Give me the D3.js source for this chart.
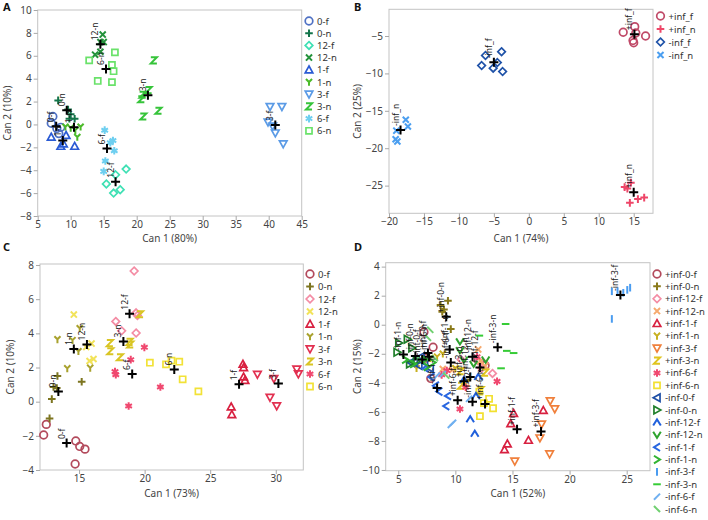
<!DOCTYPE html>
<html><head><meta charset="utf-8">
<script src="https://cdn.jsdelivr.net/npm/d3@7"></script>
<style>body{margin:0;background:#fff} svg{display:block} text{font-family:"Noto Sans",sans-serif}</style>
</head><body><svg id="c" width="708" height="520"></svg>
<script>
// ---------- Panel A ----------
const namesA = ["0-f","0-n","12-f","12-n","1-f","1-n","3-f","3-n","6-f","6-n"];
const pointsA = [
 [[7.3,0.7],[7.05,0.1],[7.9,-0.35],[8.5,-0.25],[8.2,-0.8]],
 [[8.1,2.1],[9.6,1.3],[10.0,0.9],[9.8,0.5],[10.6,0.5]],
 [[18.4,-3.9],[16.8,-4.4],[15.4,-5.2],[16.5,-6.0],[17.5,-5.7]],
 [[14.85,7.85],[14.5,7.2],[15.0,7.2],[14.5,6.35],[13.7,6.1]],
 [[7.05,-1.1],[8.5,-1.9],[9.3,-0.95],[8.9,-1.7],[10.6,-1.9]],
 [[9.2,-0.2],[11.5,-0.2],[11.0,-1.1],[10.0,-0.3],[10.7,-0.5]],
 [[40.2,1.55],[42.0,1.55],[39.9,0.2],[40.6,-0.15],[41.0,-0.75],[42.2,-1.7]],
 [[22.6,5.6],[21.8,3.0],[20.9,2.6],[20.7,2.2],[21.0,0.7],[23.3,1.2]],
 [[15.15,-0.5],[16.4,-1.4],[16.0,-1.6],[16.6,-2.3],[15.25,-3.2],[15.0,-4.1]],
 [[12.8,5.6],[16.7,6.3],[16.25,5.2],[16.5,4.65],[14.1,3.8],[16.25,3.7]]
];
const centA = [[7.8,-0.15],[9.4,1.25],[16.8,-5.0],[14.5,7.0],[8.8,-1.4],[10.5,-0.25],[41.0,-0.05],[21.7,2.55],[15.5,-2.1],[15.35,4.85]];
const xTicksA = [5,10,15,20,25,30,35,40,45];
const yTicksA = [-8,-6,-4,-2,0,2,4,6,8,10];

// ---------- Panel B ----------
const namesB = ["+inf_f","+inf_n","-inf_f","-inf_n"];
const pointsB = [
 [[13.5,-4.5],[15.15,-3.75],[16.7,-5.0],[14.9,-5.6],[15.0,-5.9],[15.3,-4.6]],
 [[13.7,-25.2],[14.6,-24.6],[14.45,-27.3],[15.6,-26.8],[16.5,-26.6],[14.1,-25.4]],
 [[-6.75,-8.95],[-6.2,-7.6],[-5.1,-9.3],[-4.5,-8.55],[-3.9,-7.1],[-3.75,-9.75]],
 [[-18.95,-17.65],[-17.6,-16.2],[-17.3,-17.1],[-19.05,-18.8],[-18.8,-19.1]]
];
const centB = [[15.1,-4.75],[15.0,-25.9],[-5.0,-8.5],[-18.35,-17.55]];
const xTicksB = [-20,-15,-10,-5,0,5,10,15];
const yTicksB = [-25,-20,-15,-10,-5];

// ---------- Panel C ----------
const namesC = ["0-f","0-n","12-f","12-n","1-f","1-n","3-f","3-n","6-f","6-n"];
const pointsC = [
 [[12.5,-1.33],[12.3,-1.95],[14.75,-2.3],[15.05,-2.62],[15.45,-2.78],[14.7,-3.65]],
 [[13.35,1.5],[13.05,0.86],[12.92,0.15],[12.75,-0.98],[15.2,1.17],[13.3,0.8]],
 [[19.2,7.65],[17.8,4.7],[19.35,5.2],[19.45,5.05],[18.25,4.15],[19.35,4.02]],
 [[14.6,5.1],[15.95,3.4],[16.1,2.5],[15.8,2.38],[15.55,3.2]],
 [[27.5,2.2],[27.55,2.0],[27.55,1.45],[27.65,1.25],[26.6,-0.3],[26.65,-0.75]],
 [[13.35,3.65],[15.05,4.3],[14.5,3.6],[14.95,2.95],[14.1,1.95],[15.85,1.98]],
 [[28.6,1.6],[29.86,1.35],[29.56,0.25],[30.07,-0.25],[31.6,1.9],[31.72,1.62]],
 [[17.35,3.43],[17.38,2.95],[18.12,2.6],[18.85,3.5],[19.65,5.12],[18.9,3.35]],
 [[19.98,3.18],[18.94,2.46],[17.74,1.76],[17.8,1.58],[21.2,0.86],[18.78,-0.25]],
 [[20.4,2.28],[21.63,2.19],[22.64,2.34],[22.9,1.31],[24.1,0.6],[22.05,2.4]]
];
const centC = [[14.05,-2.42],[13.42,0.6],[18.85,5.15],[15.6,3.35],[27.2,1.02],[14.6,3.08],[30.2,1.06],[18.38,3.53],[19.05,1.62],[22.26,1.88]];
const xTicksC = [15,20,25,30];
const yTicksC = [-4,-2,0,2,4,6,8];

// ---------- Panel D ----------
const namesD = ["+inf-0-f","+inf-0-n","+inf-12-f","+inf-12-n","+inf-1-f","+inf-1-n","+inf-3-f","+inf-3-n","+inf-6-f","+inf-6-n",
 "-inf-0-f","-inf-0-n","-inf-12-f","-inf-12-n","-inf-1-f","-inf-1-n","-inf-3-f","-inf-3-n","-inf-6-f","-inf-6-n"];
const pointsD = [
 [[7.25,-0.5],[8.05,-1.55],[7.85,-3.7],[12.6,-2.8],[7.4,-2.3]],
 [[8.7,1.35],[9.0,1.05],[9.35,1.65],[8.85,0.9],[9.6,-0.3]],
 [[13.25,-3.35],[12.5,-2.65],[12.0,-2.5],[10.5,-2.4],[12.3,-3.0]],
 [[8.9,-3.05],[9.75,-3.1],[12.0,-1.7],[12.6,-2.85],[12.2,-2.5]],
 [[15.1,-6.1],[14.85,-6.8],[16.4,-7.95],[14.55,-8.2],[14.3,-8.6],[17.7,-5.9]],
 [[7.8,-2.3],[8.4,-2.2],[8.9,-2.0],[10.0,-3.0],[6.6,-3.0]],
 [[18.3,-5.25],[18.7,-5.8],[17.4,-7.8],[18.25,-8.9],[15.2,-9.4],[17.55,-6.85]],
 [[10.45,-3.2],[10.5,-4.2],[11.0,-4.0],[12.2,-4.5],[12.6,-3.3]],
 [[10.4,-5.8],[13.65,-3.9],[8.8,-3.45],[9.25,-3.15],[11.9,-2.2],[10.9,-4.3]],
 [[12.15,-6.3],[12.95,-5.1],[13.3,-5.75],[12.5,-5.4],[12.1,-4.6]],
 [[6.4,-2.5],[6.8,-2.8],[7.0,-2.2],[7.3,-2.6],[7.8,-3.0],[6.1,-2.6]],
 [[5.05,-1.25],[4.9,-1.9],[5.8,-1.0],[6.2,-1.6],[6.6,-2.5],[6.0,-2.7]],
 [[11.3,-6.5],[11.7,-7.5],[12.0,-3.6],[10.75,-3.8],[11.8,-4.9]],
 [[10.4,-1.15],[10.4,-1.75],[10.75,-2.4],[12.65,-2.4],[11.6,-2.7]],
 [[9.2,-5.6],[9.35,-4.9],[8.3,-4.2],[7.4,-3.0],[8.6,-4.6],[7.9,-3.6]],
 [[7.3,-2.4],[7.5,-2.9],[6.3,-2.7],[8.0,-2.6],[5.6,-2.4]],
 [[23.7,0.4],[23.7,2.3],[24.2,2.3],[24.7,2.2],[25.05,2.4],[25.3,2.55]],
 [[14.4,0.05],[14.5,-1.8],[15.1,-1.95],[14.0,-3.0],[12.1,-0.75]],
 [[9.8,-6.75],[9.6,-6.9],[8.4,-3.5],[8.9,-3.4],[11.2,-5.1]],
 [[7.8,-0.35],[7.6,-0.9],[6.9,-2.4],[8.2,-2.3],[9.2,-3.5]]
];
const centD = [[7.6,-1.95],[9.2,0.55],[12.15,-2.95],[11.3,-3.6],[15.4,-7.2],[9.5,-1.7],[17.5,-7.35],[10.75,-3.9],[10.2,-5.2],[12.6,-5.45],
 [7.1,-2.4],[6.5,-2.15],[11.5,-5.3],[11.5,-2.2],[8.4,-4.35],[5.45,-2.05],[24.45,2.05],[13.7,-1.55],[9.6,-2.6],[7.7,-2.2]];
const xTicksD = [5,10,15,20,25];
const yTicksD = [-10,-8,-6,-4,-2,0,2,4];

// ---------- styles ----------
const symA = ["circle","plus","diamond","x","triUp","Y","triDown","Z","aster","square"];
const colA = ["#4f71c4","#13744a","#3fe0b4","#23923a","#2a5bd4","#4cbb2a","#5b9be6","#36c43a","#6ecff0","#6ae26a"];
const symB = ["circle","plus","diamond","x"];
const colB = ["#c04a68","#ee4668","#1f52a8","#4c9ff0"];
const symC = symA;
const colC = ["#b34a5c","#7d7520","#f48ca4","#f2e35a","#d82040","#a9a22e","#e23050","#d9c524","#f0486f","#f2e237"];
const symD = ["circle","plus","diamond","x","triUp","Y","triDown","Z","aster","square",
 "triLeft","triRight","caret","vee","lt","gt","vbar","hbar","slash","bslash"];
const colD = ["#b34a5c","#8a7a1a","#f48ca4","#f6aa6e","#d82040","#c8b020","#f0803c","#e0c41e","#f0486f","#f2e030",
 "#1e4fa6","#1f7f2a","#2060dc","#2ea32e","#2866e0","#32b432","#4a9cf0","#36cc36","#70b0f0","#70d070"];

function symPath(t, s){
  const a=s*0.8;
  switch(t){
    case "circle": return `M${s},0A${s},${s} 0 1 1 ${-s},0A${s},${s} 0 1 1 ${s},0Z`;
    case "plus": return `M${-s},0H${s}M0,${-s}V${s}`;
    case "diamond": return `M0,${-s}L${s},0L0,${s}L${-s},0Z`;
    case "x": return `M${-a},${-a}L${a},${a}M${-a},${a}L${a},${-a}`;
    case "triUp": return `M0,${-s}L${s},${a}L${-s},${a}Z`;
    case "triDown": return `M0,${s}L${s},${-a}L${-s},${-a}Z`;
    case "triLeft": return `M${-s},0L${a},${-s}L${a},${s}Z`;
    case "triRight": return `M${s},0L${-a},${-s}L${-a},${s}Z`;
    case "Y": return `M${-a},${-a}L0,0L${a},${-a}M0,0V${s}`;
    case "Z": return `M${-a},${-a}H${a}L${-a},${a}H${a}`;
    case "aster": { const c=s*0.87,h=s*0.5; return `M0,${-s}V${s}M${-c},${-h}L${c},${h}M${-c},${h}L${c},${-h}`; }
    case "square": return `M${-a},${-a}H${a}V${a}H${-a}Z`;
    case "caret": return `M${-s},${a}L0,${-a}L${s},${a}`;
    case "vee": return `M${-s},${-a}L0,${a}L${s},${-a}`;
    case "lt": return `M${a},${-s}L${-a},0L${a},${s}`;
    case "gt": return `M${-a},${-s}L${a},0L${-a},${s}`;
    case "vbar": return `M0,${-s}V${s}`;
    case "hbar": return `M${-s},0H${s}`;
    case "slash": return `M${-a},${a}L${a},${-a}`;
    case "bslash": return `M${-a},${-a}L${a},${a}`;
  }
}
const thick = t => (t==="plus"||t==="x"||t==="Y"||t==="Z"||t==="aster"||t==="caret"||t==="vee"||t==="lt"||t==="gt"||t==="vbar"||t==="hbar"||t==="slash"||t==="bslash") ? 2 : 1.7;

const svg = d3.select("#c");

function panel(cfg){
  const x = d3.scaleLinear().domain(cfg.xd).range(cfg.xr);
  const y = d3.scaleLinear().domain(cfg.yd).range(cfg.yr);
  const g = svg.append("g");
  g.append("rect").attr("x",cfg.xr[0]).attr("y",cfg.yr[1]).attr("width",cfg.xr[1]-cfg.xr[0]).attr("height",cfg.yr[0]-cfg.yr[1])
    .attr("fill","none").attr("stroke","#c4c4c4").attr("stroke-width",1);
  const ax = g.append("g").attr("transform",`translate(0,${cfg.yr[0]})`).call(d3.axisBottom(x).tickValues(cfg.xt).tickSize(4).tickSizeOuter(0).tickPadding(1));
  const ay = g.append("g").attr("transform",`translate(${cfg.xr[0]},0)`).call(d3.axisLeft(y).tickValues(cfg.yt).tickSize(4).tickSizeOuter(0).tickPadding(2));
  [ax,ay].forEach(a=>{
    a.select(".domain").remove();
    a.selectAll("line").attr("stroke","#a8a8a8");
    a.selectAll("text").attr("fill","#444").style("font-size","10px").style("font-family","'Noto Sans',sans-serif");
  });
  g.append("text").attr("x",(cfg.xr[0]+cfg.xr[1])/2).attr("y",cfg.xlabY).attr("text-anchor","middle")
    .attr("fill","#444").style("font-size","10px").text(cfg.xlab);
  g.append("text").attr("transform",`translate(${cfg.ylabX},${(cfg.yr[0]+cfg.yr[1])/2}) rotate(-90)`).attr("text-anchor","middle")
    .attr("fill","#444").style("font-size","10px").text(cfg.ylab);
  g.append("text").attr("x",cfg.letter[0]).attr("y",cfg.letter[1]).attr("font-weight","bold").style("font-size","11px").attr("fill","#111").text(cfg.L);
  const plot = g.append("g");
  cfg.points.forEach((pts,i)=>{
    plot.selectAll(null).data(pts).enter().append("path")
      .attr("transform",d=>`translate(${x(d[0])},${y(d[1])})`)
      .attr("d",symPath(cfg.sym[i],cfg.ms))
      .attr("fill","none").attr("stroke",cfg.col[i]).attr("stroke-width",thick(cfg.sym[i]));
  });
  plot.selectAll(null).data(cfg.cent).enter().append("path")
    .attr("transform",d=>`translate(${x(d[0])},${y(d[1])})`)
    .attr("d",symPath("plus",4.5)).attr("stroke","#000").attr("stroke-width",2).attr("fill","none");
  plot.selectAll(null).data(cfg.cent).enter().append("text")
    .attr("transform",d=>`translate(${x(d[0])-2},${y(d[1])-4}) rotate(-90)`)
    .attr("fill","#1a1a1a").style("font-size","8.5px").text((d,i)=>cfg.names[i]);
  const lg = g.append("g");
  cfg.names.forEach((n,i)=>{
    const yy = cfg.leg[1] + i*cfg.leg[2];
    lg.append("path").attr("transform",`translate(${cfg.leg[0]},${yy})`).attr("d",symPath(cfg.sym[i],cfg.ms))
      .attr("fill","none").attr("stroke",cfg.col[i]).attr("stroke-width",thick(cfg.sym[i]));
    lg.append("text").attr("x",cfg.leg[0]+8).attr("y",yy+3.5).attr("fill","#333").style("font-size","9.5px").text(n);
  });
}

panel({L:"A",letter:[3,11],xd:[5,45],xr:[37.7,301.7],yd:[-8,10],yr:[216,10],xt:xTicksA,yt:yTicksA,
  xlab:"Can 1 (80%)",ylab:"Can 2 (10%)",xlabY:242,ylabX:11,points:pointsA,cent:centA,names:namesA,sym:symA,col:colA,ms:3.8,leg:[309,21,12.2]});
panel({L:"B",letter:[354,11],xd:[-20,17.76],xr:[389,653],yd:[-28.7,-1.43],yr:[213.3,9.3],xt:xTicksB,yt:yTicksB,
  xlab:"Can 1 (74%)",ylab:"Can 2 (25%)",xlabY:242,ylabX:361,points:pointsB,cent:centB,names:namesB,sym:symB,col:colB,ms:3.8,leg:[660.5,16,13]});
panel({L:"C",letter:[3,251],xd:[12.02,32.1],xr:[40,303.3],yd:[-4,8.06],yr:[470,264],xt:xTicksC,yt:yTicksC,
  xlab:"Can 1 (73%)",ylab:"Can 2 (10%)",xlabY:497,ylabX:14,points:pointsC,cent:centC,names:namesC,sym:symC,col:colC,ms:3.8,leg:[310,274,12.5]});
panel({L:"D",letter:[354,251],xd:[3.9,27.04],xr:[385.7,650],yd:[-10.05,4.27],yr:[470.7,262.7],xt:xTicksD,yt:yTicksD,
  xlab:"Can 1 (52%)",ylab:"Can 2 (15%)",xlabY:497,ylabX:361,points:pointsD,cent:centD,names:namesD,sym:symD,col:colD,ms:3.8,leg:[657,274,12.37]});
</script></body></html>
